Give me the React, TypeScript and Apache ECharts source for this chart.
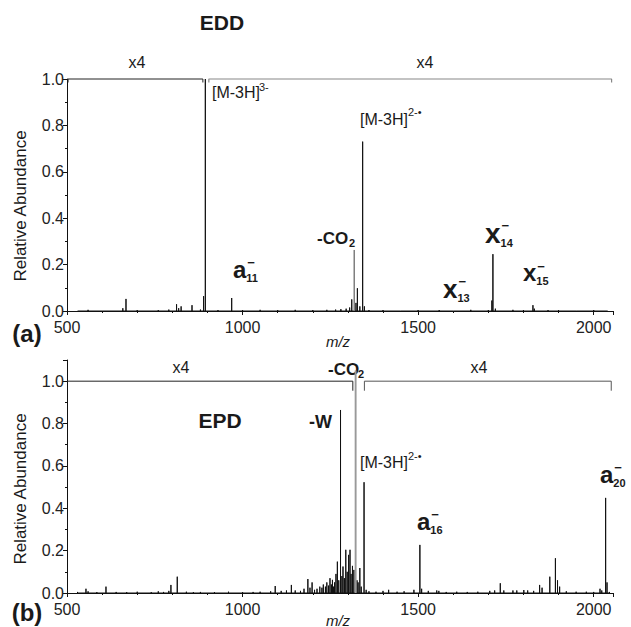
import React, { useEffect, useRef } from "react";
import * as echarts from "echarts";

// EDD spectrum: [m/z, relative abundance]
const eddPeaks: [number, number][] = [
  [530, 0.003], [560, 0.005], [600, 0.003], [659, 0.012], [668, 0.052], [700, 0.004],
  [760, 0.004], [790, 0.006], [812, 0.029], [818, 0.012], [825, 0.02], [856, 0.025],
  [880, 0.006], [889, 0.064], [894, 1.0], [930, 0.004], [969, 0.056], [1000, 0.004],
  [1050, 0.005], [1100, 0.004], [1150, 0.005], [1200, 0.004], [1240, 0.005], [1265, 0.006],
  [1280, 0.008], [1295, 0.01], [1305, 0.015], [1311, 0.05], [1323, 0.035], [1327, 0.098],
  [1334, 0.02], [1342, 0.73], [1347, 0.02], [1360, 0.004], [1400, 0.004], [1450, 0.003],
  [1500, 0.004], [1560, 0.004], [1600, 0.003], [1650, 0.005], [1700, 0.004], [1710, 0.045],
  [1713, 0.245], [1720, 0.01], [1770, 0.005], [1800, 0.004], [1827, 0.025], [1831, 0.01],
  [1870, 0.004], [1900, 0.004], [1950, 0.003], [2000, 0.004], [2040, 0.003],
];
const eddGrayPeaks: [number, number][] = [[1318, 0.263]];

// EPD spectrum: [m/z, relative abundance]
const epdPeaks: [number, number][] = [
  [530, 0.005], [554, 0.02], [560, 0.008], [585, 0.004], [611, 0.03], [640, 0.005],
  [670, 0.004], [700, 0.006], [740, 0.004], [760, 0.008], [775, 0.005], [790, 0.01],
  [796, 0.038], [814, 0.077], [840, 0.006], [860, 0.004], [880, 0.005], [920, 0.004],
  [960, 0.006], [1000, 0.004], [1030, 0.005], [1050, 0.006], [1080, 0.008], [1093, 0.033],
  [1110, 0.01], [1125, 0.012], [1139, 0.038], [1150, 0.012], [1165, 0.01], [1175, 0.02],
  [1186, 0.066], [1192, 0.025], [1198, 0.05], [1205, 0.015], [1212, 0.02], [1220, 0.03],
  [1226, 0.025], [1230, 0.04], [1236, 0.03], [1240, 0.05], [1245, 0.035], [1249, 0.07],
  [1253, 0.04], [1256, 0.062], [1259, 0.03], [1262, 0.05], [1266, 0.09], [1270, 0.148],
  [1274, 0.06], [1279, 0.864], [1283, 0.08], [1286, 0.125], [1290, 0.07], [1294, 0.204],
  [1298, 0.1], [1302, 0.18], [1306, 0.204], [1309, 0.09], [1313, 0.128], [1317, 0.109],
  [1326, 0.06], [1329, 0.05], [1334, 0.118], [1338, 0.03], [1346, 0.523], [1352, 0.015],
  [1360, 0.008], [1380, 0.006], [1400, 0.01], [1416, 0.015], [1440, 0.006], [1460, 0.008],
  [1488, 0.015], [1505, 0.227], [1510, 0.02], [1529, 0.01], [1553, 0.012], [1559, 0.01],
  [1580, 0.005], [1610, 0.006], [1640, 0.005], [1670, 0.006], [1704, 0.01], [1718, 0.012],
  [1734, 0.046], [1744, 0.012], [1770, 0.012], [1781, 0.012], [1801, 0.014], [1812, 0.012],
  [1829, 0.01], [1846, 0.038], [1853, 0.025], [1875, 0.077], [1891, 0.164], [1897, 0.06],
  [1903, 0.03], [1922, 0.008], [1950, 0.006], [1979, 0.006], [2000, 0.005], [2018, 0.02],
  [2023, 0.012], [2034, 0.449], [2038, 0.05], [2045, 0.005],
];
const epdGrayPeaks: [number, number][] = [[1321, 1.05], [1323, 1.05]];

// "x4" magnification brackets: [start m/z, end m/z]
const eddBrackets: [number, number][] = [[503, 887], [904, 2051]];
const epdBrackets: [number, number][] = [[500, 1314], [1347, 2050]];

const FONT = '"Liberation Sans", Arial, Helvetica, sans-serif';
const INK = "#1a1a1a";

function sticks(peaks: [number, number][]) {
  const s = [...peaks].sort((a, b) => a[0] - b[0]);
  const out: number[][] = [];
  for (const [m, a] of s) out.push([m, 0], [m, a], [m, 0]);
  return out;
}

function bracket(b: [number, number], drop: number, leftDrop: boolean) {
  const pts: number[][] = [];
  if (leftDrop) pts.push([b[0], 1 - drop]);
  pts.push([b[0], 1], [b[1], 1], [b[1], 1 - drop]);
  return pts;
}

function txt(text: string, x: number, y: number, size: number, o: any = {}) {
  return {
    type: "text",
    x,
    y,
    rotation: o.rot || 0,
    silent: true,
    style: {
      text,
      fill: o.fill || INK,
      fontSize: size,
      fontFamily: FONT,
      fontWeight: o.bold ? "bold" : "normal",
      fontStyle: o.italic ? "italic" : "normal",
      textAlign: o.align || "left",
      textVerticalAlign: "middle",
      align: o.align || "left",
      verticalAlign: "middle",
    },
  };
}

function ion(letter: string, sub: string, x: number, yMid: number, size: number) {
  const w = 0.556 * size;
  return [
    txt(letter, x, yMid - 0.09 * size, size, { bold: true }),
    txt("\u2212", x + w + 1, yMid - 0.37 * size, 13, { bold: true }),
    txt(sub, x + w, yMid + 0.25 * size, 11, { bold: true }),
  ];
}

function xAx(gridIndex: number) {
  return {
    type: "value",
    gridIndex,
    min: 500,
    max: 2055,
    interval: 500,
    axisLine: { show: true, onZero: false, lineStyle: { color: "#111", width: 1 } },
    axisTick: { show: true, length: 4, lineStyle: { color: "#111" } },
    minorTick: { show: true, splitNumber: 5, length: 2, lineStyle: { color: "#111" } },
    splitLine: { show: false },
    minorSplitLine: { show: false },
    axisLabel: {
      fontSize: 16,
      lineHeight: 14,
      color: "#222",
      margin: 9,
      fontFamily: FONT,
      showMaxLabel: false,
      formatter: (v: number) => String(v),
    },
  };
}

function yAx(gridIndex: number, max: number) {
  return {
    type: "value",
    gridIndex,
    min: 0,
    max,
    interval: 0.2,
    axisLine: { show: true, lineStyle: { color: "#111", width: 1 } },
    axisTick: { show: true, length: 4, lineStyle: { color: "#111" } },
    minorTick: { show: true, splitNumber: 2, length: 2, lineStyle: { color: "#111" } },
    splitLine: { show: false },
    minorSplitLine: { show: false },
    axisLabel: {
      fontSize: 16,
      lineHeight: 14,
      color: "#222",
      margin: 3,
      fontFamily: FONT,
      showMaxLabel: max === 1,
      formatter: (v: number) => v.toFixed(1),
    },
  };
}

function lineSeries(data: number[][], xi: number, color: string, width = 1, clip = true) {
  return {
    type: "line",
    xAxisIndex: xi,
    yAxisIndex: xi,
    data,
    symbol: "none",
    showSymbol: false,
    clip,
    silent: true,
    lineStyle: { color, width },
    emphasis: { disabled: true },
  };
}

export default function App() {
  const ref = useRef<HTMLDivElement>(null);
  useEffect(() => {
    if (!ref.current) return;
    const chart = echarts.init(ref.current, undefined, { renderer: "svg" });
    const graphics: any[] = [
      // top panel
      txt("EDD", 222, 22, 21, { bold: true, align: "center" }),
      txt("x4", 137, 62, 16, { align: "center" }),
      txt("x4", 425, 62, 16, { align: "center" }),
      txt("[M-3H]", 212, 92.5, 16),
      txt("3-", 259, 87, 11),
      txt("[M-3H]", 360, 119, 16),
      txt("2-\u2022", 408, 112, 11),
      txt("-CO", 317, 238.5, 17, { bold: true }),
      txt("2", 349, 243, 11, { bold: true }),
      ...ion("a", "11", 233, 271.5, 24),
      ...ion("x", "13", 443, 291.5, 26),
      ...ion("x", "14", 485, 235.7, 28),
      ...ion("x", "15", 523, 275, 24),
      txt("(a)", 27, 333, 24, { bold: true, align: "center" }),
      txt("m/z", 338, 341, 15, { italic: true, align: "center" }),
      txt("Relative Abundance", 20, 206, 17, { align: "center", rot: Math.PI / 2 }),
      // bottom panel
      txt("x4", 181, 367, 16, { align: "center" }),
      txt("x4", 479, 367, 16, { align: "center" }),
      txt("-CO", 328, 369, 17, { bold: true }),
      txt("2", 358, 374, 11, { bold: true }),
      txt("-W", 309, 421.5, 18, { bold: true }),
      txt("[M-3H]", 360, 462.5, 16),
      txt("2-\u2022", 408, 456, 11),
      txt("EPD", 220, 420, 21, { bold: true, align: "center" }),
      ...ion("a", "16", 417, 523.5, 24),
      ...ion("a", "20", 600, 476.5, 24),
      txt("(b)", 27, 612, 24, { bold: true, align: "center" }),
      txt("m/z", 338, 620, 15, { italic: true, align: "center" }),
      txt("Relative Abundance", 20, 489, 17, { align: "center", rot: Math.PI / 2 }),
    ];
    chart.setOption({
      animation: false,
      grid: [
        { left: 67, top: 79, width: 546, height: 232 },
        { left: 67, top: 360, width: 546, height: 233 },
      ],
      xAxis: [xAx(0), xAx(1)],
      yAxis: [yAx(0, 1), yAx(1, 1.1)],
      series: [
        lineSeries(sticks(eddPeaks), 0, "#111"),
        lineSeries(sticks(eddGrayPeaks), 0, "#777"),
        lineSeries(bracket(eddBrackets[0], 0.015, true), 0, "#222", 1, false),
        lineSeries(bracket(eddBrackets[1], 0.015, true), 0, "#888", 1.2, false),
        lineSeries(sticks(epdPeaks), 1, "#111"),
        lineSeries(sticks(epdGrayPeaks), 1, "#999", 1.2),
        lineSeries(bracket(epdBrackets[0], 0.045, false), 1, "#222", 1, false),
        lineSeries(bracket(epdBrackets[1], 0.045, true), 1, "#555", 1, false),
      ],
      graphic: graphics,
    });
    return () => chart.dispose();
  }, []);
  return (
    <div
      ref={ref}
      style={{ position: "absolute", left: 0, top: 0, width: 631, height: 627, background: "#fff" }}
    />
  );
}
